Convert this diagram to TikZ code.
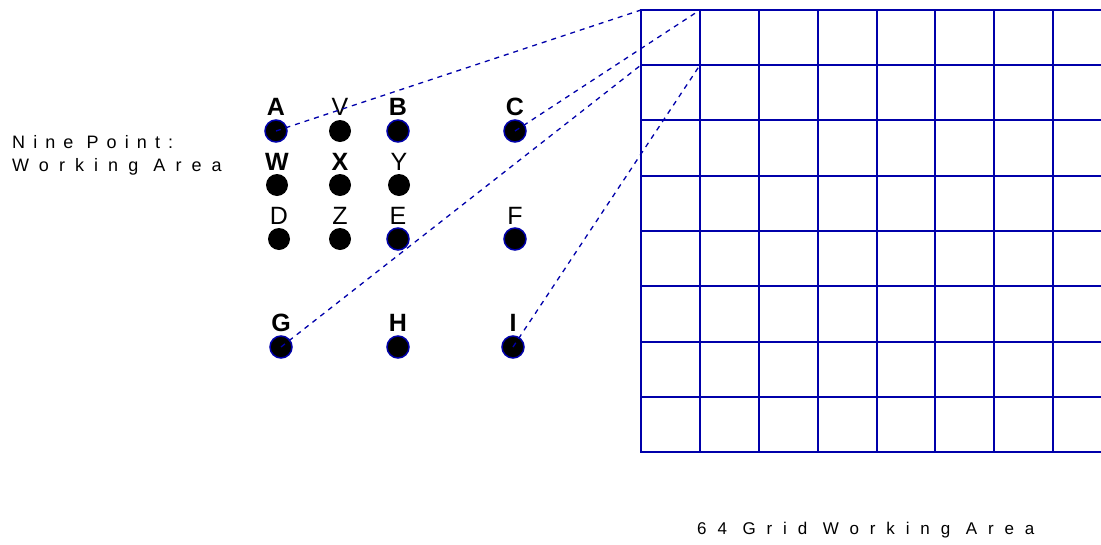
\documentclass[tikz,border=0pt]{standalone}
\usepackage{fontspec}
\setmainfont{Liberation Sans}
\newfontfamily\widefont[LetterSpace=45]{Liberation Sans}
\newfontfamily\widerfont[LetterSpace=56]{Liberation Sans}
\newfontfamily\widestfont[LetterSpace=64]{Liberation Sans}
\definecolor{gridblue}{RGB}{0,0,170}
\begin{document}
\begin{tikzpicture}[x=1pt,y=-1pt,
  dot/.style={circle,fill=black,minimum size=22pt,inner sep=0pt},
  rim/.style={draw=gridblue,line width=1.5pt},
  letter/.style={font=\fontsize{25}{25}\selectfont,anchor=base,inner sep=0pt},
  strong/.style={font=\fontsize{25}{25}\selectfont\bfseries},
  gridline/.style={draw=gridblue,line width=2pt,line cap=rect},
  link/.style={draw=gridblue,line width=1.3pt,dash pattern=on 5pt off 5pt},
  caption/.style={anchor=base west,inner sep=0pt}]
\path[use as bounding box] (0,0) rectangle (1101,544);

% 64 cell grid (the last column runs past the right edge)
\foreach \x in {641,700,759,818,877,935,994,1053}
  \draw[gridline] (\x,10) -- (\x,452);
\foreach \y in {10,65,120,176,231,286,342,397,452}
  \draw[gridline] (641,\y) -- (1101,\y);
\coordinate (g00) at (641,10);
\coordinate (g10) at (700,10);
\coordinate (g01) at (641,65);
\coordinate (g11) at (700,65);

% points of the working area
\node[dot,rim] (A) at (276,131) {};
\node[dot]     (V) at (340,131) {};
\node[dot,rim] (B) at (398,131) {};
\node[dot,rim] (C) at (515,131) {};
\node[dot]     (W) at (277,185) {};
\node[dot]     (X) at (340,185) {};
\node[dot]     (Y) at (399,185) {};
\node[dot]     (D) at (279,239) {};
\node[dot]     (Z) at (340,239) {};
\node[dot,rim] (E) at (398,239) {};
\node[dot,rim] (F) at (515,239) {};
\node[dot,rim] (G) at (281,347) {};
\node[dot,rim] (H) at (398,347) {};
\node[dot,rim] (I) at (513,347) {};

% point names
\node[letter,strong] (lA) at (276,115) {A};
\node[letter]        (lV) at (340,115) {V};
\node[letter,strong] (lB) at (398,115) {B};
\node[letter,strong] (lC) at (515,115) {C};
\node[letter,strong] (lW) at (277,170) {W};
\node[letter,strong] (lX) at (340,170) {X};
\node[letter]        (lY) at (399,170) {Y};
\node[letter]        (lD) at (279,224) {D};
\node[letter]        (lZ) at (340,224) {Z};
\node[letter]        (lE) at (398,224) {E};
\node[letter]        (lF) at (515,224) {F};
\node[letter,strong] (lG) at (281,331) {G};
\node[letter,strong] (lH) at (398,331) {H};
\node[letter,strong] (lI) at (513,331) {I};

% corners mapped onto the first cell
\draw[link] (A.center) -- (g00);
\draw[link] (C.center) -- (g10);
\draw[link] (G.center) -- (g01);
\draw[link] (I.center) -- (g11);

% captions
\node[caption,font=\widefont\fontsize{18}{18}\selectfont] (nine) at (12,148) {Nine Point:};
\node[caption,font=\widerfont\fontsize{18}{18}\selectfont] (work) at (12,171) {Working Area};
\node[caption,font=\widestfont\fontsize{17}{17}\selectfont] (grid) at (697,534) {64 Grid Working Area};
\end{tikzpicture}
\end{document}
